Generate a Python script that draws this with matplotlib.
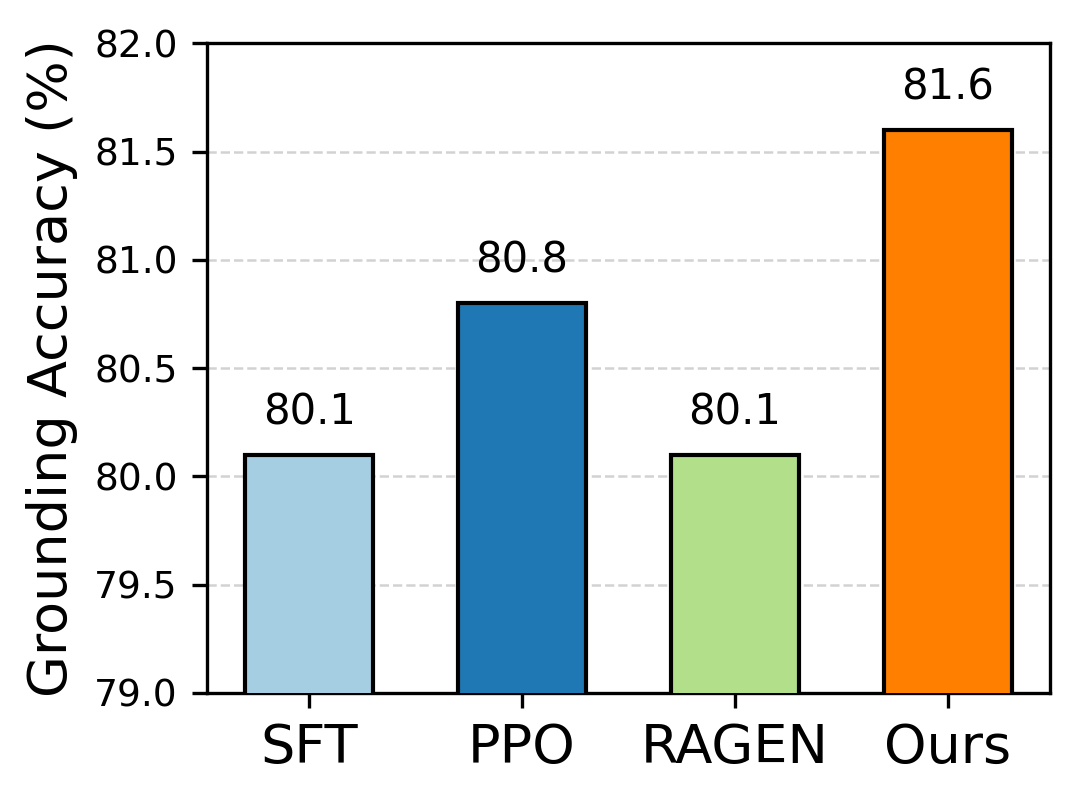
import matplotlib
matplotlib.use("Agg")
import matplotlib.pyplot as plt

methods = ["SFT", "PPO", "RAGEN", "Ours"]
accuracy = [80.1, 80.8, 80.1, 81.6]
bar_colors = ["#a6cee3", "#1f78b4", "#b2df8a", "#ff7f00"]

fig, ax = plt.subplots(figsize=(1078 / 300, 801 / 300), dpi=300)
fig.subplots_adjust(left=0.192, right=0.974, top=0.946, bottom=0.135)

bars = ax.bar(methods, accuracy, width=0.6, color=bar_colors, edgecolor="black", linewidth=1.0, zorder=3)
for b, v in zip(bars, accuracy):
    ax.text(b.get_x() + b.get_width() / 2, v + 0.1, f"{v:.1f}", ha="center", va="bottom", fontsize=10)

ax.set_ylim(79.0, 82.0)
ax.set_yticks([79.0, 79.5, 80.0, 80.5, 81.0, 81.5, 82.0])
ax.set_yticklabels([f"{t:.1f}" for t in ax.get_yticks()], fontsize=9)
ax.tick_params(axis="x", labelsize=13)
ax.set_ylabel("Grounding Accuracy (%)", fontsize=13)
ax.yaxis.grid(True, linestyle="--", color="gray", alpha=0.35, linewidth=0.6, zorder=0)
ax.set_axisbelow(True)

fig.savefig("out.png", dpi=300)
